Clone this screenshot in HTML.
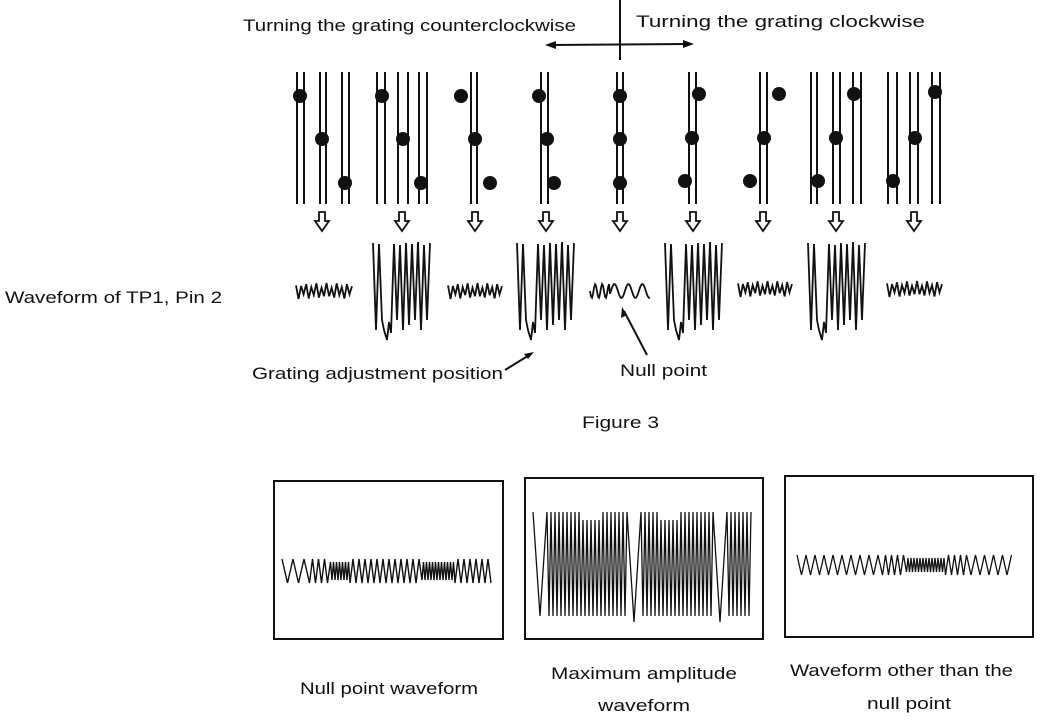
<!DOCTYPE html>
<html><head><meta charset="utf-8"><style>
html,body{margin:0;padding:0;background:#fff;}
svg{display:block;}
text{font-family:"Liberation Sans",sans-serif;fill:#111;}
</style></head><body>
<svg id="s" width="1051" height="720" viewBox="0 0 1051 720" xmlns="http://www.w3.org/2000/svg">
<g font-size="17">
<text x="243" y="31" textLength="333" lengthAdjust="spacingAndGlyphs">Turning the grating counterclockwise</text>
<text x="636" y="27" textLength="289" lengthAdjust="spacingAndGlyphs">Turning the grating clockwise</text>
<text x="5" y="303" textLength="217" lengthAdjust="spacingAndGlyphs">Waveform of TP1, Pin 2</text>
<text x="252" y="379" textLength="251" lengthAdjust="spacingAndGlyphs">Grating adjustment position</text>
<text x="620" y="376" textLength="87" lengthAdjust="spacingAndGlyphs">Null point</text>
<text x="582" y="428" textLength="77" lengthAdjust="spacingAndGlyphs">Figure 3</text>
<text x="300" y="694" textLength="178" lengthAdjust="spacingAndGlyphs">Null point waveform</text>
<text x="551" y="679" textLength="186" lengthAdjust="spacingAndGlyphs">Maximum amplitude</text>
<text x="598" y="711" textLength="92" lengthAdjust="spacingAndGlyphs">waveform</text>
<text x="790" y="676" textLength="223" lengthAdjust="spacingAndGlyphs">Waveform other than the</text>
<text x="867" y="709" textLength="84" lengthAdjust="spacingAndGlyphs">null point</text>
</g>
<g stroke="#111" stroke-width="2" fill="none">
<line x1="620" y1="0" x2="620" y2="60"/>
<line x1="550" y1="45" x2="688" y2="44"/>
<path d="M505 370 L531 354"/>
<path d="M647 355 L624 311"/>
</g>
<g fill="#111">
<polygon points="545,45 556,41 556,49"/>
<polygon points="694,44 683,40 683,48"/>
<polygon points="534,352 524,354 528,359"/>
<polygon points="622,307 621,318 627,315"/>
</g>
<rect x="274" y="481" width="229" height="158" fill="none" stroke="#111" stroke-width="2"/>
<rect x="525" y="478" width="238" height="161" fill="none" stroke="#111" stroke-width="2"/>
<rect x="785" y="476" width="248" height="161" fill="none" stroke="#111" stroke-width="2"/>
<g id="g" stroke="#111" stroke-width="2" fill="none"></g>
<g id="d" fill="#111"></g>
</svg>
<script>
var g=document.getElementById('g'),d=document.getElementById('d');
function L(x1,y1,x2,y2,w){var e=document.createElementNS('http://www.w3.org/2000/svg','line');e.setAttribute('x1',x1);e.setAttribute('y1',y1);e.setAttribute('x2',x2);e.setAttribute('y2',y2);if(w)e.setAttribute('stroke-width',w);g.appendChild(e);}
function C(x,y){var e=document.createElementNS('http://www.w3.org/2000/svg','circle');e.setAttribute('cx',x);e.setAttribute('cy',y);e.setAttribute('r',7);d.appendChild(e);}
function P(pts,w){var e=document.createElementNS('http://www.w3.org/2000/svg','polyline');e.setAttribute('points',pts.join(' '));if(w)e.setAttribute('stroke-width',w);g.appendChild(e);}
var groups=[
 {l:[297,304,320,326,342,349],c:[[300,96],[322,139],[345,183]],a:322},
 {l:[377,385,398,408,419,427],c:[[382,96],[403,139],[421,183]],a:402},
 {l:[471,477],c:[[461,96],[475,139],[490,183]],a:475},
 {l:[541,548],c:[[539,96],[547,139],[554,183]],a:546},
 {l:[617,623],c:[[620,96],[620,139],[620,183]],a:620},
 {l:[689,696],c:[[699,94],[692,138],[685,181]],a:693},
 {l:[760,767],c:[[779,94],[764,138],[750,181]],a:763},
 {l:[811,817,833,840,853,861],c:[[818,181],[836,138],[854,94]],a:836},
 {l:[888,897,910,918,932,940],c:[[893,181],[915,138],[935,92]],a:914}
];
groups.forEach(function(G){
 G.l.forEach(function(x){L(x,72,x,204,2);});
 G.c.forEach(function(c){C(c[0],c[1]);});
 var a=G.a;
 var e=document.createElementNS('http://www.w3.org/2000/svg','polygon');
 e.setAttribute('points',[a-3,212,a+3,212,a+3,221,a+7,221,a,231,a-7,221,a-3,221].join(' '));
 e.setAttribute('fill','#fff');e.setAttribute('stroke-width','1.8');g.appendChild(e);
});
function small(x0,x1,yc,amp,n){var p=[];for(var i=0;i<=n;i++){var x=x0+(x1-x0)*i/n;var y=yc+(i%2?amp:-amp)*(0.7+0.3*Math.sin(i*1.7));p.push(x.toFixed(1)+','+y.toFixed(1));}P(p,1.8);}
small(296,352,291,8,22);small(448,502,291,8,22);small(738,792,289,8,22);small(887,942,289,8,22);
(function(){var p=[];for(var x=590;x<=650;x+=1){var f=x<610?0.9:0.45;var y=291+7*Math.sin((x-590)*f);p.push(x+','+y.toFixed(1));}P(p,1.8);})();
function big(x0){var xs=[0,3,6,9,11,14,16,18,21,24,27,30,33,36,39,42,45,48,51,54,57],ys=[243,330,244,320,330,340,322,333,244,320,245,330,243,325,244,320,242,330,245,320,243];var p=[];for(var i=0;i<xs.length;i++)p.push((x0+xs[i])+','+ys[i]);P(p,1.8);}
big(373);big(517);big(665);big(808);
(function(){var p=[];var x=282,i=0;while(x<494){var per=(x<305)?11:((x>330&&x<350)||(x>420&&x<455)?3:6);var a=(x>330&&x<350)||(x>420&&x<455)?9:12;p.push(x.toFixed(1)+','+(571+(i%2?a:-a)).toFixed(1));x+=per/2;i++;}P(p,1.4);})();
(function(){var p=[];var x=533,i=0;while(x<752){var per=(x<545||(x>625&&x<640)||(x>712&&x<725))?14:4;var hi=(x>580&&x<600)||(x>660&&x<680)?520:512;var lo=(x>625&&x<640)||(x>712&&x<725)?622:616;p.push(x.toFixed(1)+','+(i%2?lo:hi));x+=per/2;i++;}P(p,1.3);})();
(function(){var p=[];var x=797,i=0;while(x<1014){var per=(x<880||x>965)?9:(x>905&&x<945?3:6);var a=(x>905&&x<945)?7:10;p.push(x.toFixed(1)+','+(565+(i%2?a:-a)).toFixed(1));x+=per/2;i++;}P(p,1.3);})();
</script>
</body></html>
